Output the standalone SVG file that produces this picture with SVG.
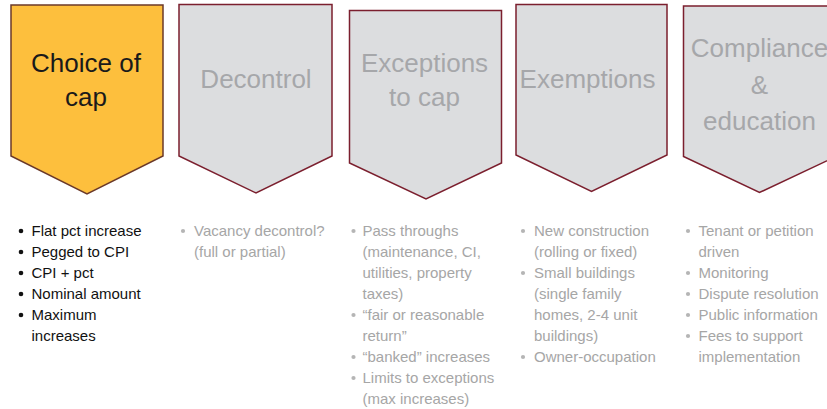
<svg xmlns="http://www.w3.org/2000/svg" width="827" height="409" viewBox="0 0 827 409">
<style>
.sh{fill:#dcdddf;stroke:#7b1f2e;stroke-width:1.5}
.act{fill:#fdbf3d;stroke:#6b3a2a;stroke-width:1.5}
.t{font-family:"Liberation Sans",Arial,sans-serif;font-size:26px;text-anchor:middle;fill:#a6a7aa}
.ta{fill:#1a1a1a}
.b{font-family:"Liberation Sans",Arial,sans-serif;font-size:15px;fill:#a6a6a6}
.bk{fill:#111}
</style>
<rect width="827" height="409" fill="#ffffff"/>
<g id="node-choice">
<polygon class="act" points="11,5 163,5 163,156 87,194 11,156"/>
<text class="t ta" x="86" y="72">Choice of</text>
<text class="t ta" x="86" y="106">cap</text>
</g>
<g id="node-decontrol">
<polygon class="sh" points="179,4.5 332,4.5 332,156 256,193 179,156"/>
<text class="t" x="256" y="88">Decontrol</text>
</g>
<g id="node-exceptions">
<polygon class="sh" points="349.5,10.5 501.5,10.5 501.5,163 426,199 349.5,163"/>
<text class="t" x="424.5" y="72">Exceptions</text>
<text class="t" x="424.5" y="106">to cap</text>
</g>
<g id="node-exemptions">
<polygon class="sh" points="516,4.5 667,4.5 667,155 591.5,191.5 516,155"/>
<text class="t" x="587.5" y="88">Exemptions</text>
</g>
<g id="node-compliance">
<polygon class="sh" points="683.5,6 836,6 836,156.5 759.5,192.5 683.5,156.5"/>
<text class="t" x="759.5" y="57">Compliance</text>
<text class="t" x="759.5" y="93.5">&amp;</text>
<text class="t" x="759.5" y="130">education</text>
</g>
<g id="connectors"></g>
<g id="list-choice">
<g fill="#111"><circle cx="21" cy="231" r="2.3"/><circle cx="21" cy="252" r="2.3"/><circle cx="21" cy="273" r="2.3"/><circle cx="21" cy="294" r="2.3"/><circle cx="21" cy="315" r="2.3"/></g>
<text class="b bk" x="31.5" y="236">Flat pct increase</text>
<text class="b bk" x="31.5" y="257">Pegged to CPI</text>
<text class="b bk" x="31.5" y="278">CPI + pct</text>
<text class="b bk" x="31.5" y="299">Nominal amount</text>
<text class="b bk" x="31.5" y="320">Maximum</text>
<text class="b bk" x="31.5" y="341">increases</text>
</g>
<g id="list-decontrol">
<circle cx="183" cy="231" r="2.1" fill="#b5b5b5"/>
<text class="b" x="194" y="236">Vacancy decontrol?</text>
<text class="b" x="194" y="257">(full or partial)</text>
</g>
<g id="list-exceptions">
<g fill="#b5b5b5"><circle cx="353.5" cy="231" r="2.1"/><circle cx="353.5" cy="315" r="2.1"/><circle cx="353.5" cy="357" r="2.1"/><circle cx="353.5" cy="378" r="2.1"/></g>
<text class="b" x="362.5" y="236">Pass throughs</text>
<text class="b" x="362.5" y="257">(maintenance, CI,</text>
<text class="b" x="362.5" y="278">utilities, property</text>
<text class="b" x="362.5" y="299">taxes)</text>
<text class="b" x="362.5" y="320">“fair or reasonable</text>
<text class="b" x="362.5" y="341">return”</text>
<text class="b" x="362.5" y="362">“banked” increases</text>
<text class="b" x="362.5" y="383">Limits to exceptions</text>
<text class="b" x="362.5" y="404">(max increases)</text>
</g>
<g id="list-exemptions">
<g fill="#b5b5b5"><circle cx="523" cy="231" r="2.1"/><circle cx="523" cy="273" r="2.1"/><circle cx="523" cy="357" r="2.1"/></g>
<text class="b" x="534" y="236">New construction</text>
<text class="b" x="534" y="257">(rolling or fixed)</text>
<text class="b" x="534" y="278">Small buildings</text>
<text class="b" x="534" y="299">(single family</text>
<text class="b" x="534" y="320">homes, 2-4 unit</text>
<text class="b" x="534" y="341">buildings)</text>
<text class="b" x="534" y="362">Owner-occupation</text>
</g>
<g id="list-compliance">
<g fill="#b5b5b5"><circle cx="688" cy="231" r="2.1"/><circle cx="688" cy="273" r="2.1"/><circle cx="688" cy="294" r="2.1"/><circle cx="688" cy="315" r="2.1"/><circle cx="688" cy="336" r="2.1"/></g>
<text class="b" x="698.5" y="236">Tenant or petition</text>
<text class="b" x="698.5" y="257">driven</text>
<text class="b" x="698.5" y="278">Monitoring</text>
<text class="b" x="698.5" y="299">Dispute resolution</text>
<text class="b" x="698.5" y="320">Public information</text>
<text class="b" x="698.5" y="341">Fees to support</text>
<text class="b" x="698.5" y="362">implementation</text>
</g>
</svg>
